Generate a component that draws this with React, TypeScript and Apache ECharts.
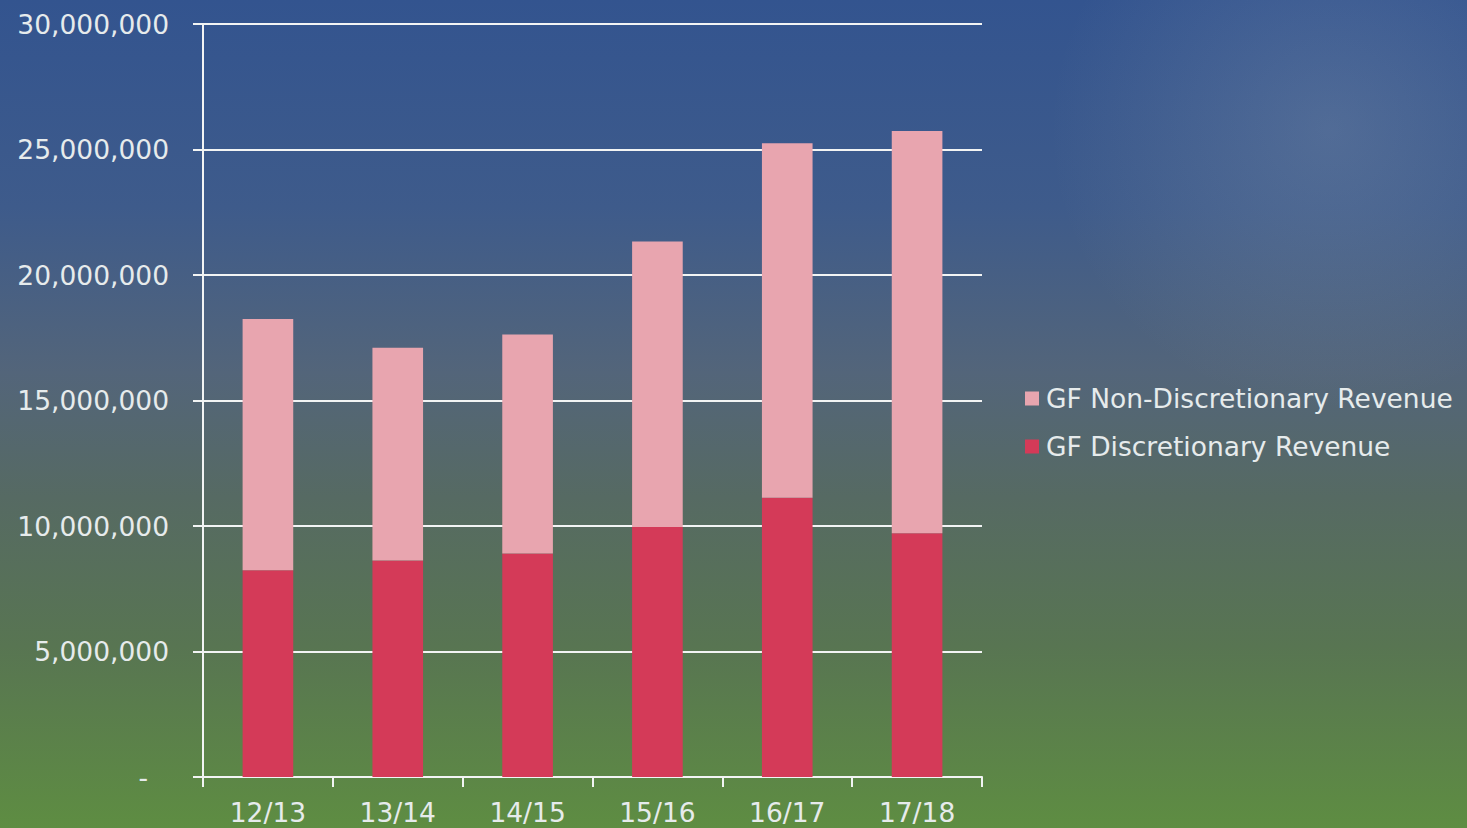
import React, { useEffect, useRef } from "react";
import * as echarts from "echarts";

// Fiscal years
const categories = ["12/13", "13/14", "14/15", "15/16", "16/17", "17/18"];

// General Fund revenue split (dollars)
const discretionary = [8240000, 8630000, 8900000, 9960000, 11130000, 9710000];
const nonDiscretionary = [10010000, 8470000, 8730000, 11370000, 14120000, 16030000];

const yTicks = { min: 0, max: 30000000, interval: 5000000 };

const FONT = "'DejaVu Sans', Verdana, sans-serif";
const FS = 26.5;
const TEXT = "#E6EBEC";
const LINE = "#F2F4F4";

function formatAxis(v: number): string {
  if (v === 0) return "{dash|-}";
  return v.toLocaleString("en-US");
}

export default function App() {
  const ref = useRef<HTMLDivElement>(null);

  useEffect(() => {
    document.body.style.margin = "0";
    const chart = echarts.init(ref.current!, undefined, { renderer: "svg" });
    chart.setOption({
      animation: false,
      backgroundColor: new echarts.graphic.LinearGradient(0, 0, 0, 1, [
        { offset: 0, color: "#33548F" },
        { offset: 0.25, color: "#3E5B8B" },
        { offset: 0.45, color: "#53657A" },
        { offset: 0.6, color: "#566A63" },
        { offset: 0.78, color: "#587552" },
        { offset: 1, color: "#5E8D42" },
      ]),
      graphic: [
        {
          type: "circle",
          silent: true,
          z: -1,
          shape: { cx: 1330, cy: 130, r: 280 },
          style: {
            fill: new echarts.graphic.RadialGradient(0.5, 0.5, 0.5, [
              { offset: 0, color: "rgba(175,185,190,0.2)" },
              { offset: 1, color: "rgba(175,185,190,0)" },
            ]),
          },
        },
      ],
      textStyle: { fontFamily: FONT },
      grid: { left: 203, right: 485, top: 24, bottom: 51, containLabel: false },
      legend: {
        orient: "vertical",
        left: 1025,
        top: 385,
        padding: 0,
        itemWidth: 14,
        itemHeight: 14,
        itemGap: 21,
        icon: "rect",
        data: ["GF Non-Discretionary Revenue", "GF Discretionary Revenue"],
        textStyle: { color: TEXT, fontSize: FS, fontFamily: FONT, padding: [0, 0, 0, 2] },
      },
      xAxis: {
        type: "category",
        data: categories,
        axisLine: { lineStyle: { color: LINE, width: 2 } },
        axisTick: { show: true, length: 10, inside: false, lineStyle: { color: LINE, width: 2 } },
        axisLabel: { color: TEXT, fontSize: FS, fontFamily: FONT, margin: 22 },
      },
      yAxis: {
        type: "value",
        min: yTicks.min,
        max: yTicks.max,
        interval: yTicks.interval,
        axisLine: { show: true, lineStyle: { color: LINE, width: 2 } },
        axisTick: { show: true, length: 10, lineStyle: { color: LINE, width: 2 } },
        splitLine: { show: true, lineStyle: { color: LINE, width: 2 } },
        axisLabel: {
          color: TEXT,
          fontSize: FS,
          fontFamily: FONT,
          margin: 34,
          formatter: formatAxis,
          rich: { dash: { color: TEXT, fontSize: FS, fontFamily: FONT, padding: [0, 21, 0, 0] } },
        },
      },
      series: [
        {
          name: "GF Discretionary Revenue",
          type: "bar",
          stack: "rev",
          barWidth: "39%",
          data: discretionary,
          itemStyle: { color: "#D43A58" },
        },
        {
          name: "GF Non-Discretionary Revenue",
          type: "bar",
          stack: "rev",
          barWidth: "39%",
          data: nonDiscretionary,
          itemStyle: { color: "#E8A5AF" },
        },
      ],
    });
    return () => chart.dispose();
  }, []);

  return (
    <div
      ref={ref}
      style={{ position: "fixed", left: 0, top: 0, width: 1467, height: 828 }}
    />
  );
}
